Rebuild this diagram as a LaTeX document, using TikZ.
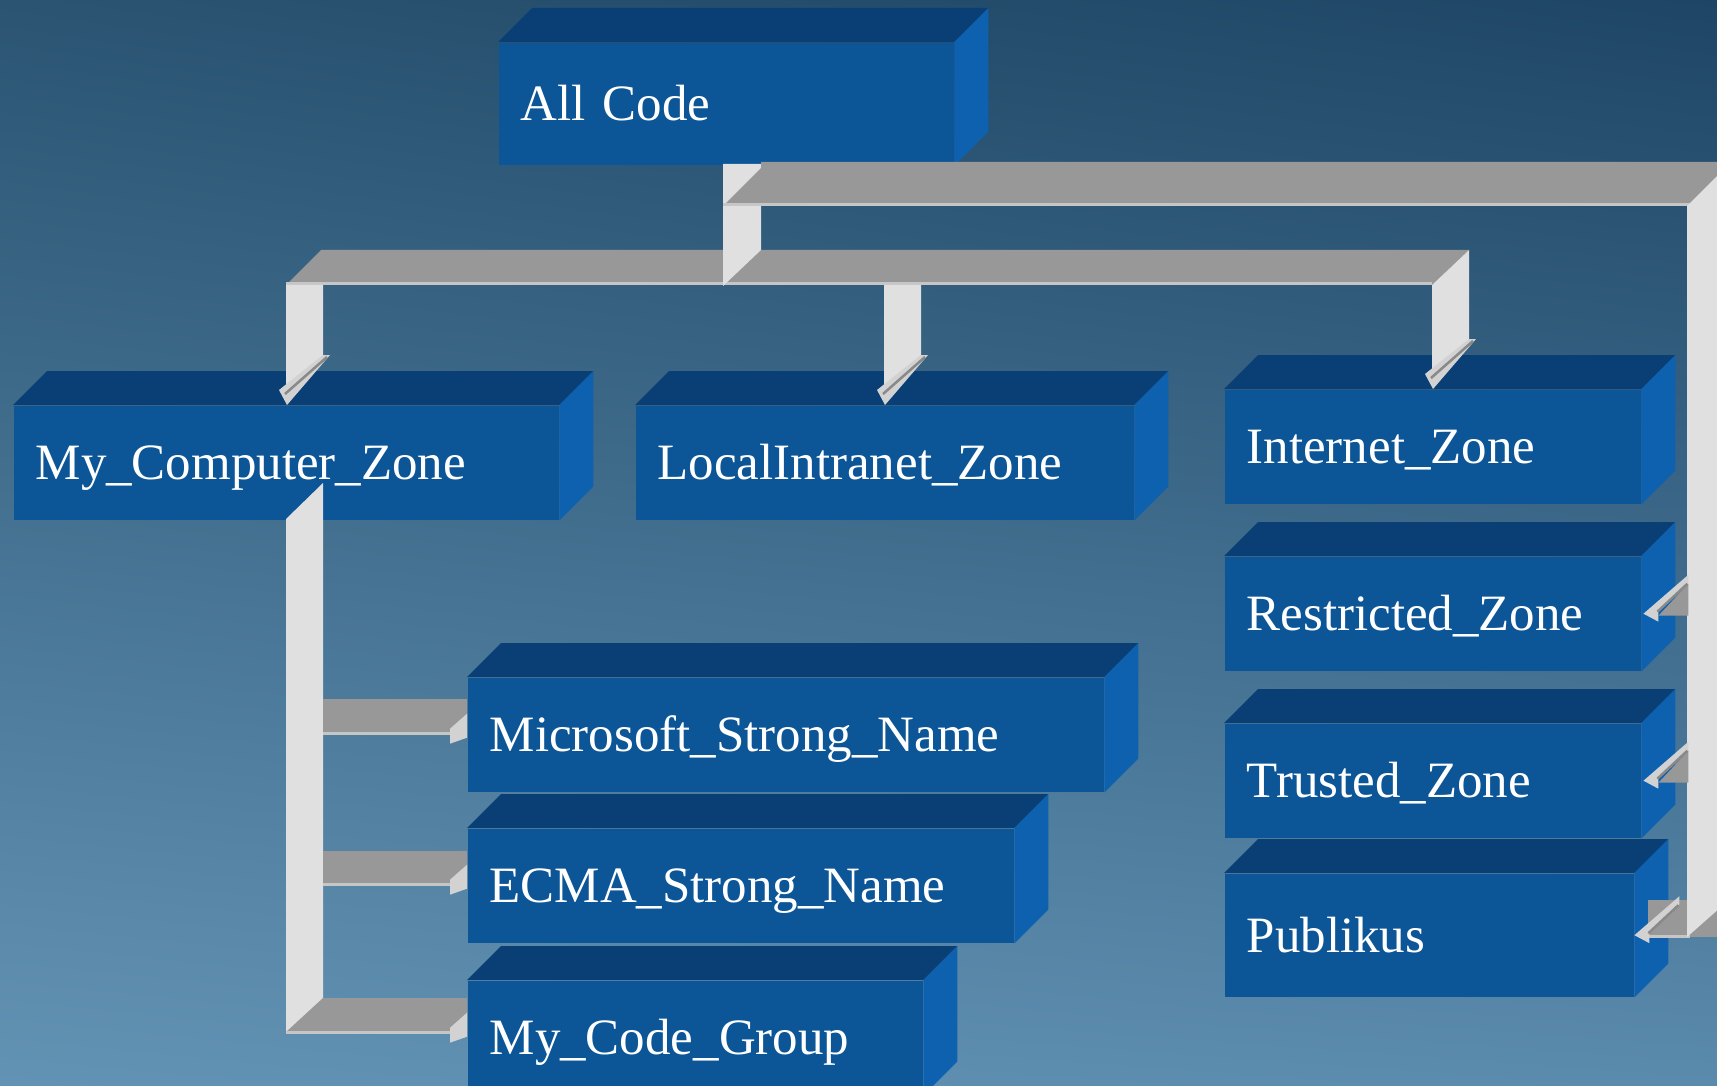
\documentclass[tikz,border=0pt]{standalone}
\usepackage{fontspec}
\setmainfont{Liberation Serif}
\usepackage{xcolor}
\usetikzlibrary{shadings}
\definecolor{skyTL}{HTML}{2A5472}
\definecolor{skyTR}{HTML}{1E4565}
\definecolor{skyBL}{HTML}{6393B4}
\definecolor{skyBR}{HTML}{5A8AAC}
\definecolor{zoneFront}{HTML}{0C5597}
\definecolor{zoneTop}{HTML}{0A3F76}
\definecolor{zoneSide}{HTML}{0E61AF}
\definecolor{ribLight}{HTML}{E0E0E0}
\definecolor{ribGrey}{HTML}{989898}
\definecolor{ribLip}{HTML}{C6C6C6}
\definecolor{ribHead}{HTML}{D2D2D2}
\tikzset{
  zone/.style={rectangle,anchor=north west,fill=zoneFront,text=white,
               font=\fontsize{14.5}{17}\selectfont,align=left,
               inner xsep=2.2mm,inner ysep=0pt,text height=9.6pt,text depth=0pt,
               minimum height=11.4mm},
  topface/.style={fill=zoneTop},
  sideface/.style={fill=zoneSide},
  band/.style={fill=ribLight},
  bar/.style={fill=ribGrey},
  lip/.style={draw=ribLip,line width=0.3mm},
  headface/.style={fill=ribHead},
  headline/.style={draw=ribGrey!90!black,line width=0.25mm},
  pics/downhead/.style={code={
      \fill[headface] (0,0) -- (-8,-15) -- (36,-50) -- (43,-50) -- cycle;
      \draw[headline] (-2,-11) -- (40,-48);}},
  pics/lefthead/.style={code={
      \fill[headface] (0,0) -- (45,-39) -- (45,-31) -- (15,-3) -- (15,8) -- cycle;
      \draw[headline] (14,-2) -- (44,-30);}},
  pics/righthead/.style={code={
      \fill[headface] (0,-21) -- (-17,-6) -- (-17,9) -- (0,3) -- cycle;}},
}

\begin{document}
\begin{tikzpicture}[x=0.1mm,y=-0.1mm]
  \clip (0,0) rectangle (1717,1085);
  \shade[upper left=skyTL,upper right=skyTR,lower left=skyBL,lower right=skyBR]
    (0,0) rectangle (1717,1085);

  % zones
  \node[zone,text width=41.1mm,minimum height=12.2mm] (all) at (498,42) {All Code};
  \node[zone,text width=50.1mm] (myc) at (13,405) {My\_Computer\_Zone};
  \node[zone,text width=45.4mm] (lin) at (635,405) {LocalIntranet\_Zone};
  \node[zone,text width=37.2mm] (inet) at (1224,389) {Internet\_Zone};
  \node[zone,text width=37.2mm] (restr) at (1224,556) {Restricted\_Zone};
  \node[zone,text width=37.2mm] (trust) at (1224,723) {Trusted\_Zone};
  \node[zone,text width=36.5mm,minimum height=12.3mm] (publ) at (1224,873) {Publikus};
  \node[zone,text width=59.2mm] (msn) at (467,677) {Microsoft\_Strong\_Name};
  \node[zone,text width=50.2mm] (ecma) at (467,828) {ECMA\_Strong\_Name};
  \node[zone,text width=41.1mm] (mcg) at (467,980) {My\_Code\_Group};

  \foreach \n in {all,myc,lin,inet,restr,trust,publ,msn,ecma,mcg}{
    \fill[topface] (\n.north west) -- ++(34,-34) -- ([shift={(34,-34)}]\n.north east)
      -- (\n.north east) -- cycle;
    \fill[sideface] (\n.north east) -- ([shift={(34,-34)}]\n.north east)
      -- ([shift={(34,-34)}]\n.south east) -- (\n.south east) -- cycle;
  }

  % lower bar to the three upper zones
  \fill[bar] (286,285) -- (321,250) -- (1469,250) -- (1432,285) -- cycle;
  \draw[lip] (286,284) -- (1432,284);
  \fill[band] (723,164) -- (761,164) -- (761,250) -- (723,286) -- cycle;
  \fill[band] (286,285) -- (323,285) -- (323,357) -- (286,393) -- cycle;
  \fill[band] (884,285) -- (921,285) -- (921,357) -- (884,393) -- cycle;
  \fill[band] (1432,285) -- (1469,250) -- (1469,341) -- (1432,377) -- cycle;
  \path (myc.north west) ++(274,0) pic {downhead};
  \path (lin.north west) ++(250,0) pic {downhead};
  \path (inet.north west) ++(209,0) pic {downhead};

  % upper bar and the right-hand trunk
  \fill[bar] (723,206) -- (761,168) -- (761,162) -- (1730,162) -- (1730,206) -- cycle;
  \draw[lip] (723,205) -- (1690,205);
  \fill[bar] (1648,900) rectangle (1730,937);
  \draw[lip] (1648,936) -- (1690,936);
  \fill[band] (1687,206) -- (1725,168) -- (1730,168) -- (1730,899) -- (1687,937) -- cycle;
  \fill[bar] (restr.east) ++(17,2) -- ++(30,0) -- ++(0,-32) -- cycle;
  \fill[bar] (trust.east) ++(17,2) -- ++(30,0) -- ++(0,-32) -- cycle;
  \path (restr.east) ++(2,0) pic {lefthead};
  \path (trust.east) ++(2,0) pic {lefthead};
  \path (publ.east) pic {lefthead};

  % trunk under My_Computer_Zone
  \fill[band] (286,519) -- (323,483) -- (323,1032) -- (286,1032) -- cycle;
  \fill[bar] (323,699) rectangle (467,733);
  \draw[lip] (323,733) -- (467,733);
  \fill[bar] (323,851) rectangle (467,884);
  \draw[lip] (323,884) -- (467,884);
  \fill[bar] (286,1032) -- (323,998) -- (467,998) -- (467,1032) -- cycle;
  \draw[lip] (286,1032) -- (467,1032);
  \path (msn.west) pic {righthead};
  \path (ecma.west) pic {righthead};
  \path (mcg.west) ++(0,-4) pic {righthead};
\end{tikzpicture}
\end{document}
